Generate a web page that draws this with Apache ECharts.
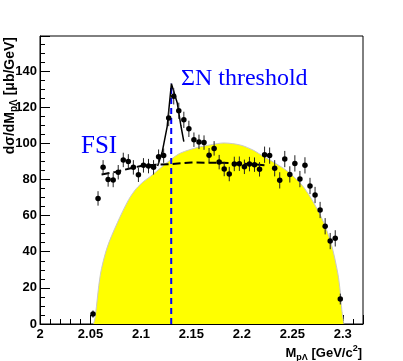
<!DOCTYPE html>
<html>
<head>
<meta charset="utf-8">
<script src="https://cdn.jsdelivr.net/npm/echarts@6/dist/echarts.min.js"></script>
<style>
  html, body { margin: 0; padding: 0; background: #fff; }
  #main { width: 403px; height: 361px; }
</style>
</head>
<body>
<div id="main"></div>
<script>
// measured p-Lambda invariant mass spectrum
var massBins = [2.0525, 2.0575, 2.0625, 2.0675, 2.0725, 2.0775, 2.0825, 2.0875, 2.0925, 2.0975,
                2.1025, 2.1075, 2.1125, 2.1175, 2.1225, 2.1275, 2.1325, 2.1375, 2.1425, 2.1475,
                2.1525, 2.1575, 2.1625, 2.1675, 2.1725, 2.1775, 2.1825, 2.1875, 2.1925, 2.1975,
                2.2025, 2.2075, 2.2125, 2.2175, 2.2225, 2.2275, 2.2325, 2.2375, 2.2425, 2.2475,
                2.2525, 2.2575, 2.2625, 2.2675, 2.2725, 2.2775, 2.2825, 2.2875, 2.2925, 2.2975];
var xsecValues = [5.5, 69.5, 86.7, 80, 79.7, 84, 90.8, 90, 86.7, 82.6,
                  87.8, 87.4, 86.7, 92.6, 93.2, 114, 126, 118, 113, 108,
                  102, 100.8, 100.4, 93.4, 97.2, 89.6, 85.8, 83, 88.6, 88.7,
                  87, 88.5, 88.2, 85.6, 93.7, 93.2, 86.2, 79.5, 91.3, 82.8,
                  88.9, 80.2, 87.8, 76.4, 71.4, 63.1, 54.1, 45.9, 47.4, 13.8];
var xsecErrors = [2, 4, 4, 4, 4, 4, 4, 4, 4, 4,
                  4, 4, 4, 4, 4, 4.5, 4.5, 4.5, 4.5, 4.5,
                  4, 4, 4, 4, 4, 4, 4, 4, 4, 4,
                  4, 4, 4, 4, 4.5, 4.5, 4.5, 4.5, 4.5, 4.5,
                  4.5, 4.5, 4.5, 4.5, 4.5, 4.5, 4.5, 4.5, 4.5, 3];

// phase space distribution (yellow)
var psMass = [2.053, 2.0547, 2.0597, 2.0663, 2.0766, 2.0878, 2.0955, 2.1029, 2.1094, 2.1193,
              2.1293, 2.1392, 2.1558, 2.1691, 2.1822, 2.1989, 2.212, 2.2205, 2.2287, 2.2453,
              2.2618, 2.2784, 2.2883, 2.295, 2.2976, 2.299, 2.301];
var psValues = [0, 4, 27, 42, 56, 68.8, 75, 79, 81.7, 86.3,
                90.9, 94.6, 97.7, 99.2, 100.2, 99, 96, 93, 90.5, 84.5,
                75.3, 59.5, 44.8, 28.2, 17.2, 8, 0];

// fit without cusp (dashed) and with cusp (solid)
var bgFitMass = [2.061, 2.075, 2.09, 2.10, 2.115, 2.13, 2.13, 2.15, 2.18, 2.2, 2.225];
var bgFitValues = [82.8, 84.2, 86.2, 87.5, 88.2, 88.5, 89.4, 89.4, 89.2, 88.8, 87.8];
var cuspFitMass = [2.1165, 2.121, 2.126, 2.1302, 2.136, 2.1395, 2.1425];
var cuspFitValues = [87.5, 95, 109.3, 133, 122.3, 110, 101];

// Sigma-N threshold
var thresholdMass = 2.13;
var thresholdTop = 133;

var chart = echarts.init(document.getElementById('main'));

function pairs(xs, ys) {
  var out = [];
  for (var i = 0; i < xs.length; i++) out.push([xs[i], ys[i]]);
  return out;
}

var points = pairs(massBins, xsecValues);
var errBars = [];
for (var i = 0; i < massBins.length; i++) {
  errBars.push([massBins[i], xsecValues[i] - xsecErrors[i], xsecValues[i] + xsecErrors[i]]);
}

var labelFont = {
  fontFamily: 'Liberation Sans',
  fontWeight: 'bold',
  fontSize: 13,
  color: '#000'
};

var option = {
  animation: false,
  backgroundColor: '#fff',
  grid: {
    left: 40, right: 40, top: 36, bottom: 37,
    show: true,
    borderColor: '#000',
    borderWidth: 1,
    outerBoundsMode: 'none'
  },
  xAxis: {
    type: 'value',
    min: 2, max: 2.32, interval: 0.05,
    axisLine: { show: true, onZero: false, lineStyle: { color: '#000', width: 1 } },
    axisTick: { show: true, inside: true, length: 9, lineStyle: { color: '#000' } },
    minorTick: { show: true, splitNumber: 5, length: 5, lineStyle: { color: '#000' } },
    splitLine: { show: false },
    axisLabel: Object.assign({
      margin: 4,
      formatter: function(v) {
        if (v > 2.305) return '';
        return String(+v.toFixed(2));
      }
    }, labelFont)
  },
  yAxis: {
    type: 'value',
    min: 0, max: 159.4, interval: 20,
    axisLine: { show: true, lineStyle: { color: '#000', width: 1 } },
    axisTick: { show: true, inside: true, length: 10, lineStyle: { color: '#000' } },
    minorTick: { show: true, splitNumber: 4, length: 5, lineStyle: { color: '#000' } },
    splitLine: { show: false },
    axisLabel: Object.assign({
      margin: 3,
      formatter: function(v) {
        if (v > 150) return '';
        return String(Math.round(v));
      }
    }, labelFont)
  },
  series: [
    {
      // phase space
      type: 'line',
      data: pairs(psMass, psValues),
      smooth: 0.3,
      symbol: 'none',
      lineStyle: { color: '#c8c8c8', width: 1 },
      areaStyle: { color: '#ffff00', opacity: 1 },
      z: 1
    },
    {
      type: 'line',
      data: [[thresholdMass, 0], [thresholdMass, thresholdTop]],
      symbol: 'none',
      lineStyle: { color: '#0000ff', width: 2, type: [6, 4] },
      z: 2
    },
    {
      type: 'line',
      data: pairs(bgFitMass, bgFitValues),
      symbol: 'none',
      lineStyle: { color: '#000', width: 2, type: [8, 4] },
      z: 3
    },
    {
      type: 'line',
      data: pairs(cuspFitMass, cuspFitValues),
      symbol: 'none',
      lineStyle: { color: '#000', width: 1.5 },
      z: 3
    },
    {
      type: 'custom',
      data: errBars,
      encode: { x: 0, y: [1, 2] },
      renderItem: function(params, api) {
        var p1 = api.coord([api.value(0), api.value(1)]);
        var p2 = api.coord([api.value(0), api.value(2)]);
        return {
          type: 'line',
          shape: { x1: p1[0], y1: p1[1], x2: p2[0], y2: p2[1] },
          style: { stroke: '#222', lineWidth: 1 }
        };
      },
      z: 4
    },
    {
      type: 'scatter',
      data: points,
      symbol: 'circle',
      symbolSize: 5.5,
      itemStyle: { color: '#000', opacity: 1 },
      z: 5
    }
  ],
  graphic: [
    {
      type: 'text',
      x: 81, y: 146,
      style: {
        text: 'FSI',
        fill: '#0000ff',
        fontFamily: 'Liberation Serif',
        fontSize: 25,
        verticalAlign: 'middle'
      }
    },
    {
      type: 'text',
      x: 181, y: 79,
      style: {
        text: 'ΣN threshold',
        fill: '#0000ff',
        fontFamily: 'Liberation Serif',
        fontSize: 24,
        verticalAlign: 'middle'
      }
    },
    {
      // x axis title
      type: 'text',
      x: 362, y: 344,
      style: {
        text: '{a|M}{s|pΛ}{a| [GeV/c}{u|2}{a|]}',
        align: 'right',
        verticalAlign: 'top',
        fill: '#000',
        rich: {
          a: { fontFamily: 'Liberation Sans', fontWeight: 'bold', fontSize: 13, lineHeight: 18, verticalAlign: 'middle' },
          s: { fontFamily: 'Liberation Sans', fontWeight: 'bold', fontSize: 9, lineHeight: 9, verticalAlign: 'bottom' },
          u: { fontFamily: 'Liberation Sans', fontWeight: 'bold', fontSize: 9, lineHeight: 9, verticalAlign: 'top' }
        }
      }
    },
    {
      // y axis title
      type: 'text',
      x: 10, y: 37,
      rotation: Math.PI / 2,
      style: {
        text: '{a|dσ/dM}{s|pΛ}{a| [μb/GeV]}',
        align: 'right',
        verticalAlign: 'middle',
        fill: '#000',
        rich: {
          a: { fontFamily: 'Liberation Sans', fontWeight: 'bold', fontSize: 14, lineHeight: 19, verticalAlign: 'middle' },
          s: { fontFamily: 'Liberation Sans', fontWeight: 'bold', fontSize: 10, lineHeight: 10, verticalAlign: 'bottom' }
        }
      }
    }
  ]
};
chart.setOption(option);
</script>
</body>
</html>
